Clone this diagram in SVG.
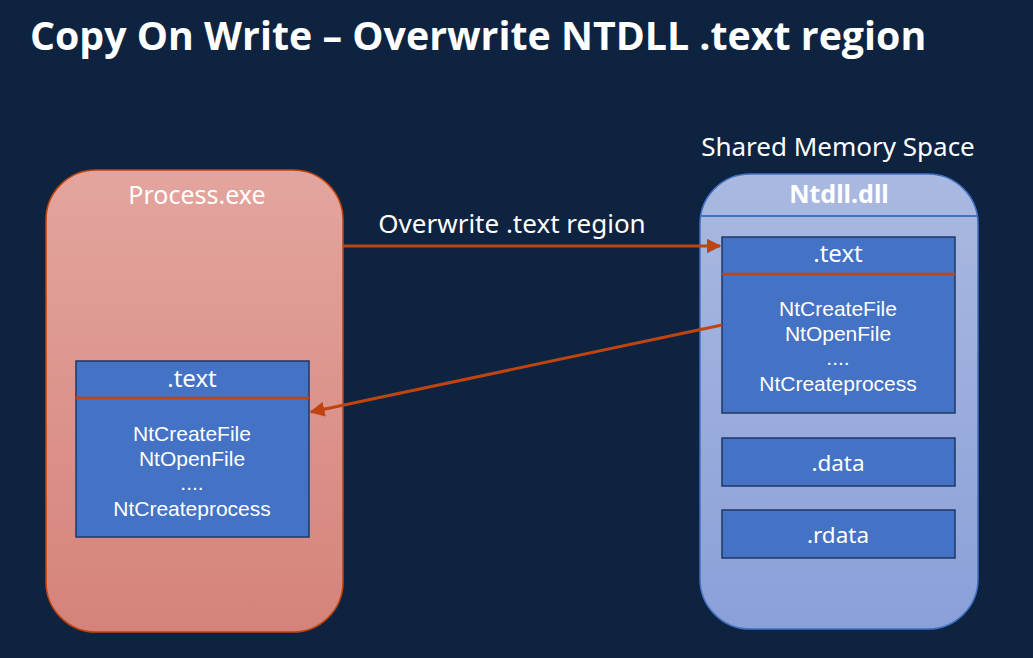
<svg xmlns="http://www.w3.org/2000/svg" width="1033" height="658" viewBox="0 0 1033 658">
<defs>
<linearGradient id="gp" x1="0" y1="0" x2="0" y2="1"><stop offset="0" stop-color="#E3A59E"/><stop offset="1" stop-color="#D5837A"/></linearGradient>
<linearGradient id="gn" x1="0" y1="0" x2="0" y2="1"><stop offset="0" stop-color="#AAB9E1"/><stop offset="1" stop-color="#8AA0D8"/></linearGradient>
<marker id="ah" viewBox="0 0 10 10" refX="9" refY="5" markerWidth="5" markerHeight="5" orient="auto" markerUnits="strokeWidth"><path d="M0,0 L10,5 L0,10 z" fill="#C0440F"/></marker>
<style>
.t{font-family:"Noto Sans","Open Sans",sans-serif;fill:#fff;text-anchor:middle}
.l{font-family:"Liberation Sans",Arial,sans-serif;fill:#fff;text-anchor:middle;font-size:21px}
.sec{fill:#4472C4;stroke:#1F3864;stroke-width:1.5}
.hl{stroke:#C0440F;stroke-width:2.5}
.con{stroke:#C0440F;stroke-width:3;fill:none;marker-end:url(#ah)}
</style>
</defs>
<rect width="1033" height="658" fill="#0E2340"/>
<text x="30" y="50" style="font-family:'Open Sans','Noto Sans',sans-serif;font-weight:bold;font-size:39.3px;fill:#fff">Copy On Write – Overwrite NTDLL .text region</text>
<g id="process">
<rect x="46" y="170" width="297" height="462" rx="50" fill="url(#gp)" stroke="#C0440F" stroke-width="1.5"/>
<text class="t" x="197" y="204" font-size="25">Process.exe</text>
</g>
<g id="process-text">
<rect class="sec" x="76" y="361" width="233" height="176"/>
<line class="hl" x1="76" y1="398" x2="309" y2="398"/>
<text class="t" x="192" y="387" font-size="24">.text</text>
<text class="l" x="192" y="441">NtCreateFile</text>
<text class="l" x="192" y="466">NtOpenFile</text>
<text class="l" x="192" y="490">....</text>
<text class="l" x="192" y="516">NtCreateprocess</text>
</g>
<text class="t" x="838" y="156" font-size="26">Shared Memory Space</text>
<g id="ntdll">
<rect x="700" y="174" width="278" height="455" rx="50" fill="url(#gn)" stroke="#4472C4" stroke-width="1.5"/>
<line x1="700" y1="216" x2="978" y2="216" stroke="#4472C4" stroke-width="2"/>
<text class="t" x="839" y="203" font-size="25" font-weight="bold">Ntdll.dll</text>
</g>
<g id="ntdll-text">
<rect class="sec" x="722" y="237" width="233" height="176"/>
<line class="hl" x1="722" y1="274" x2="955" y2="274"/>
<text class="t" x="838" y="262" font-size="24">.text</text>
<text class="l" x="838" y="316">NtCreateFile</text>
<text class="l" x="838" y="341">NtOpenFile</text>
<text class="l" x="838" y="365">....</text>
<text class="l" x="838" y="391">NtCreateprocess</text>
</g>
<g id="ntdll-data">
<rect class="sec" x="722" y="438" width="233" height="48"/>
<text class="t" x="838" y="471" font-size="22.5">.data</text>
</g>
<g id="ntdll-rdata">
<rect class="sec" x="722" y="510" width="233" height="48"/>
<text class="t" x="838" y="543" font-size="22.5">.rdata</text>
</g>
<g id="connectors">
<line class="con" x1="343" y1="246" x2="720" y2="246"/>
<text class="t" x="512" y="233" font-size="26">Overwrite .text region</text>
<line class="con" x1="722" y1="325" x2="311" y2="412"/>
</g>
</svg>
